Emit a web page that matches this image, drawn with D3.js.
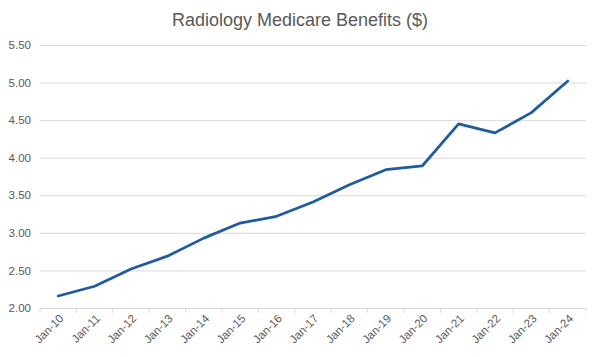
<!DOCTYPE html>
<html><head><meta charset="utf-8">
<script src="https://cdn.jsdelivr.net/npm/d3@7"></script>
<style>body{margin:0;background:#fff;}svg{display:block;font-family:"Liberation Sans",Arial,sans-serif;}</style>
</head><body><svg id="c" width="600" height="357"></svg>
<script>
const categories = ["Jan-10","Jan-11","Jan-12","Jan-13","Jan-14","Jan-15","Jan-16","Jan-17","Jan-18","Jan-19","Jan-20","Jan-21","Jan-22","Jan-23","Jan-24"];
const values = [2.16,2.29,2.52,2.69,2.93,3.13,3.22,3.41,3.64,3.84,3.89,4.45,4.33,4.60,5.02];
const yTicks = [2.00,2.50,3.00,3.50,4.00,4.50,5.00,5.50];
const title = "Radiology Medicare Benefits ($)";

const svg = d3.select("#c");
const m = {l:40, r:14, t:45, b:49};
const W = 600, H = 357;
const x = d3.scaleBand().domain(categories).range([m.l, W-m.r]);
const y = d3.scaleLinear().domain([2,5.5]).range([H-m.b, m.t]);

svg.append("text").attr("x",300).attr("y",26).attr("text-anchor","middle")
  .attr("font-size",18).attr("fill","#595959").text(title);

const ya = svg.append("g").attr("transform",`translate(${m.l},0)`)
  .call(d3.axisLeft(y).tickValues(yTicks).tickFormat(d3.format(".2f")).tickSize(-(W-m.l-m.r)).tickPadding(9));
ya.select(".domain").remove();
ya.selectAll(".tick line").attr("stroke","#d9d9d9");
ya.selectAll(".tick text").attr("fill","#595959").attr("font-size",11.5);

const xa = svg.append("g").attr("transform",`translate(0,${H-m.b})`)
  .call(d3.axisBottom(x).tickSize(0).tickFormat(d=>d));
xa.select(".domain").attr("stroke","#d9d9d9");
xa.selectAll(".tick text").attr("fill","#595959").attr("font-size",11.5)
  .attr("text-anchor","end").attr("dy",null)
  .attr("transform","translate(4,9) rotate(-45)");
// boundary tick marks
const bounds = categories.map(c=>x(c)).concat([x.range()[1]]);
svg.append("g").selectAll("line").data(bounds).join("line")
  .attr("x1",d=>d).attr("x2",d=>d).attr("y1",H-m.b).attr("y2",H-m.b+5)
  .attr("stroke","#d9d9d9");

const line = d3.line().x((d,i)=>x(categories[i])+x.bandwidth()/2).y(d=>y(d));
svg.append("path").datum(values).attr("d",line).attr("fill","none")
  .attr("stroke","#1f5b9f").attr("stroke-width",2.75).attr("stroke-linejoin","round").attr("stroke-linecap","round");
</script></body></html>
